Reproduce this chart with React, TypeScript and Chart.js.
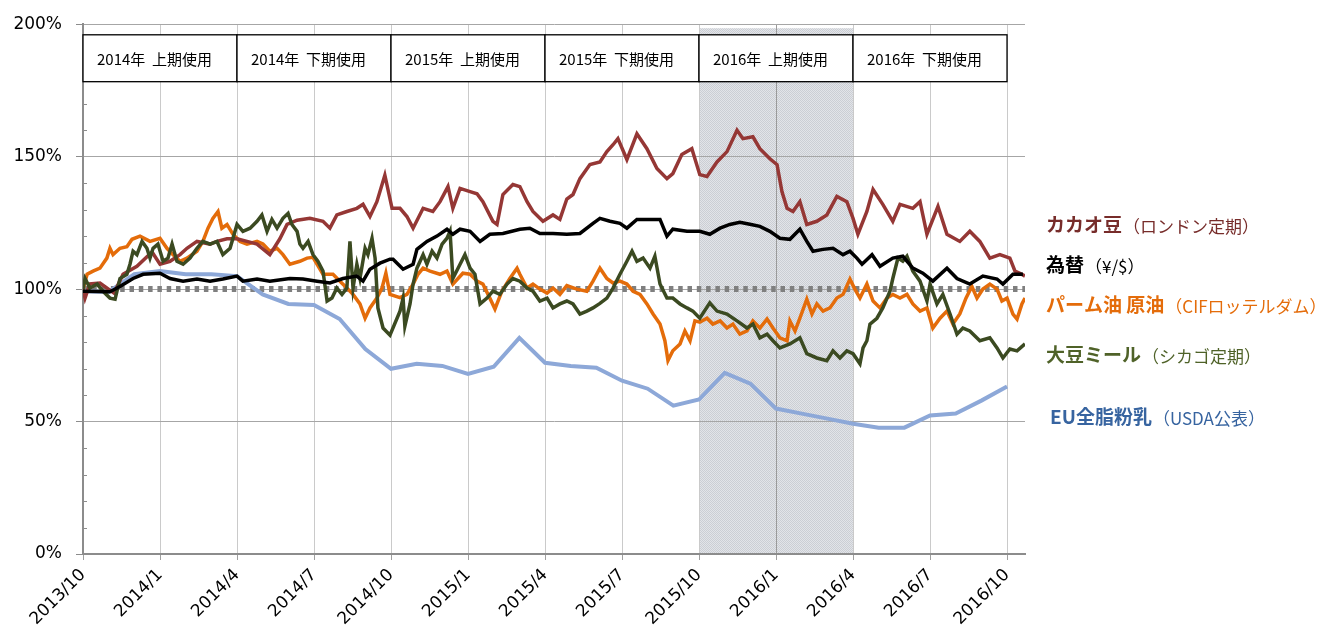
import React, { useEffect, useRef } from "react";
import { Chart, registerables } from "chart.js";

Chart.register(...registerables);

// ---------- data (x = months since 2013/10, y = % of start) ----------
const QUARTER_LABELS = [
  "2013/10", "2014/1", "2014/4", "2014/7", "2014/10", "2015/1", "2015/4",
  "2015/7", "2015/10", "2016/1", "2016/4", "2016/7", "2016/10",
];
const PERIOD_LABELS = [
  "2014年  上期使用", "2014年  下期使用", "2015年  上期使用",
  "2015年  下期使用", "2016年  上期使用", "2016年  下期使用",
];
const SHADE_FROM = 24; // 2015/10
const SHADE_TO = 30; // 2016/4
const BASELINE = 100;
const X_MAX = 36.7;

const cacao: [number, number][] = [
  [0, 100], [0.08, 96.6], [0.27, 102], [0.66, 102.3], [1.21, 98.5], [1.56, 105.6], [2.1, 108.6],
  [2.69, 114], [3.0, 109.4], [3.39, 110.5], [3.78, 113], [4.05, 115.4], [4.44, 118], [4.95, 117],
  [5.22, 118], [5.61, 119], [6.0, 119], [6.39, 118], [6.78, 117], [7.28, 113], [7.67, 119],
  [7.95, 124.4], [8.34, 126], [8.84, 126.7], [9.35, 125.6], [9.62, 123], [9.89, 128], [10.28, 129.3],
  [10.67, 130.5], [10.91, 132], [11.18, 127.4], [11.45, 133], [11.76, 143], [12.04, 130.5],
  [12.35, 130.5], [12.62, 127.4], [12.86, 123], [13.25, 130.5], [13.63, 129.3], [13.91, 133],
  [14.22, 138.7], [14.41, 130.5], [14.69, 138], [15.08, 136.8], [15.35, 136], [15.58, 133],
  [15.97, 125.6], [16.13, 124.4], [16.36, 135.7], [16.75, 139.5], [17.02, 138.7], [17.3, 133],
  [17.53, 129.3], [17.92, 125.6], [18.31, 128], [18.58, 126.3], [18.85, 134], [19.09, 135.7],
  [19.36, 141.7], [19.75, 147], [20.14, 148], [20.41, 151.9], [20.65, 154.5], [20.84, 156.8],
  [21.19, 148.9], [21.58, 158.6], [21.97, 153], [22.36, 145.5], [22.75, 141.7], [22.98, 143.6],
  [23.33, 150.8], [23.72, 153], [24.03, 143.2], [24.31, 142.5], [24.7, 148], [25.09, 151.9],
  [25.48, 160], [25.71, 156.8], [26.1, 157.5], [26.37, 153], [26.76, 149.2], [27.04, 147],
  [27.23, 136.8], [27.43, 130.5], [27.66, 129.3], [27.93, 133], [28.2, 124.4], [28.59, 125.6],
  [28.98, 128], [29.37, 135], [29.76, 133], [30.0, 126.7], [30.19, 120.7], [30.54, 129.3],
  [30.78, 137.6], [31.16, 132], [31.55, 125.6], [31.83, 132], [32.33, 130.5], [32.61, 133],
  [32.88, 120.7], [33.31, 131.2], [33.66, 120.7], [34.16, 118], [34.55, 121.8], [34.94, 118],
  [35.33, 111.7], [35.72, 113], [36.11, 111.7], [36.31, 106.8], [36.5, 106], [36.7, 104.9],
];

const fx: [number, number][] = [
  [0, 99.2], [1.05, 99], [1.44, 101], [1.95, 104], [2.34, 105.6], [3.0, 106], [3.39, 104], [3.9, 103],
  [4.44, 103.8], [4.95, 103], [5.45, 103.8], [6.0, 104.9], [6.23, 103], [6.78, 103.8], [7.28, 103],
  [8.06, 104], [8.57, 103.8], [9.12, 103], [9.62, 102.3], [10.13, 104], [10.67, 104.9], [10.91, 103],
  [11.18, 107.5], [11.57, 109.8], [11.96, 111.3], [12.08, 111.3], [12.47, 107.5], [12.86, 109.4],
  [13.01, 115], [13.4, 118], [13.79, 120], [14.18, 122.6], [14.41, 120.7], [14.69, 122.6],
  [15.08, 121.8], [15.47, 118], [15.85, 120.7], [16.36, 121], [17.02, 122.6], [17.41, 123],
  [17.8, 121], [18.31, 121], [18.85, 120.7], [19.36, 121], [19.87, 124.8], [20.14, 126.7],
  [20.53, 125.6], [20.92, 124.8], [21.19, 123], [21.58, 126.3], [22.09, 126.3], [22.48, 126.3],
  [22.75, 120], [22.98, 122.6], [23.53, 121.8], [24.03, 121.8], [24.42, 120.7], [24.82, 123],
  [25.2, 124.4], [25.59, 125.2], [25.98, 124.5], [26.37, 123.7], [26.76, 121.8], [27.15, 119.2],
  [27.54, 118.8], [27.93, 122.6], [28.2, 118], [28.44, 114.3], [28.83, 115], [29.22, 115.4],
  [29.61, 113], [29.88, 114.3], [30.15, 111.7], [30.35, 109.4], [30.74, 113], [31.05, 108.6],
  [31.55, 111.7], [31.94, 112.4], [32.33, 107.9], [32.72, 106], [33.11, 103], [33.66, 107.9],
  [34.05, 104], [34.55, 101.9], [35.06, 104.9], [35.61, 103.8], [35.84, 101.9], [36.23, 105.6],
  [36.62, 105.6],
];

const palm: [number, number][] = [
  [0, 100], [0.16, 105.6], [0.39, 106.8], [0.66, 107.9], [0.93, 111.7], [1.05, 115.4], [1.17, 113],
  [1.44, 115.4], [1.71, 116], [1.91, 118.8], [2.22, 120], [2.61, 118], [3.0, 119.2], [3.27, 115.4],
  [3.51, 113], [3.78, 110.5], [4.05, 111.7], [4.44, 114.3], [4.67, 118], [4.87, 123], [5.06, 126.7],
  [5.26, 129.3], [5.41, 123], [5.61, 124.4], [5.84, 120.7], [6.12, 118], [6.39, 117], [6.78, 118],
  [7.01, 117], [7.28, 114.3], [7.56, 115.4], [7.79, 113], [8.06, 109.4], [8.45, 110.5], [8.73, 111.7],
  [8.96, 112], [9.35, 105.6], [9.74, 105.6], [10.01, 103], [10.28, 100.4], [10.52, 98], [10.79, 94.4],
  [10.99, 89], [11.18, 92.9], [11.45, 96.6], [11.65, 100.4], [11.8, 106], [11.96, 98], [12.35, 96.8],
  [12.62, 98], [12.86, 101.9], [13.05, 105.6], [13.25, 107.9], [13.52, 106.8], [13.91, 105.6],
  [14.18, 106.8], [14.41, 101.9], [14.8, 106], [15.08, 105.6], [15.35, 103], [15.58, 101.9],
  [15.85, 96.6], [16.05, 92.5], [16.32, 99.2], [16.63, 104], [16.91, 107.9], [17.02, 105.6],
  [17.3, 100.4], [17.53, 101.9], [17.8, 100], [18.08, 98.5], [18.31, 100.4], [18.58, 98],
  [18.85, 101.3], [19.24, 100], [19.63, 99.2], [19.87, 103], [20.14, 107.9], [20.41, 104],
  [20.65, 102.3], [20.92, 103], [21.19, 101.9], [21.43, 99.2], [21.7, 98], [21.97, 94.4],
  [22.21, 90.6], [22.48, 86.8], [22.67, 80.5], [22.79, 73], [22.98, 76.7], [23.26, 79.3],
  [23.45, 84.2], [23.65, 80.5], [23.84, 88], [24.03, 87.5], [24.31, 89], [24.54, 86.8], [24.82, 88],
  [25.09, 85.3], [25.32, 86.8], [25.59, 83], [25.87, 84.2], [26.1, 88], [26.37, 85.3], [26.65, 88.7],
  [26.88, 85.3], [27.15, 81.6], [27.43, 80.5], [27.54, 88], [27.74, 84.2], [27.93, 89], [28.2, 96.2],
  [28.4, 90.6], [28.59, 94.4], [28.83, 91.7], [29.1, 92.9], [29.37, 96.6], [29.61, 98], [29.88, 103.8],
  [30.07, 100], [30.27, 96.6], [30.54, 101.9], [30.78, 95.5], [31.05, 92.9], [31.32, 96.6],
  [31.55, 98], [31.83, 96.6], [32.1, 98], [32.33, 94.4], [32.61, 91.7], [32.88, 92.9], [33.11, 85.3],
  [33.39, 89], [33.66, 91.7], [33.89, 86.8], [34.16, 90.6], [34.4, 96.6], [34.63, 101], [34.83, 96.6],
  [35.06, 100], [35.33, 101.9], [35.61, 100], [35.8, 95.5], [36.0, 96.6], [36.23, 90.6], [36.39, 88.7],
  [36.58, 94.4], [36.7, 96.6],
];

const soy: [number, number][] = [
  [0, 100], [0.08, 104], [0.27, 100.4], [0.55, 101.9], [0.78, 99.2], [1.05, 96.6], [1.25, 96.2],
  [1.44, 104], [1.71, 105.6], [1.83, 109.4], [1.95, 114.3], [2.1, 113], [2.3, 118], [2.49, 115.4],
  [2.61, 111.7], [2.73, 115.4], [2.92, 117], [3.12, 110.5], [3.31, 111.7], [3.47, 117], [3.66, 110.5],
  [3.9, 109.4], [4.17, 111.7], [4.44, 115.4], [4.67, 118], [4.95, 117], [5.22, 118], [5.45, 113],
  [5.73, 115.4], [6.0, 124.4], [6.23, 121.8], [6.51, 123], [6.78, 125.6], [6.97, 128], [7.17, 121.8],
  [7.36, 126.3], [7.56, 123], [7.79, 126.7], [7.99, 128.6], [8.14, 124.4], [8.34, 121.8], [8.45, 117],
  [8.57, 115.4], [8.77, 118], [8.96, 113], [9.15, 110.5], [9.35, 106.8], [9.51, 95.5], [9.7, 96.6],
  [9.89, 100.4], [10.09, 98], [10.28, 100.4], [10.4, 118], [10.52, 100.4], [10.67, 109.4],
  [10.79, 104], [10.99, 115.4], [11.1, 113], [11.26, 119.2], [11.38, 111.7], [11.49, 92.9],
  [11.69, 85.3], [11.96, 82.6], [12.35, 91.7], [12.47, 96.6], [12.54, 86], [12.74, 94.4],
  [12.86, 101.9], [13.01, 107.9], [13.25, 113], [13.4, 109.4], [13.6, 114.3], [13.79, 111.7],
  [13.99, 117], [14.18, 119.2], [14.3, 121.8], [14.41, 104], [14.69, 109.4], [14.88, 113],
  [15.08, 107.9], [15.27, 105.6], [15.47, 94.4], [15.74, 96.6], [15.97, 99.2], [16.24, 98],
  [16.52, 101.9], [16.75, 104], [17.02, 103], [17.3, 100.4], [17.53, 99.2], [17.8, 95.5],
  [18.08, 96.6], [18.31, 92.9], [18.58, 94.4], [18.85, 95.5], [19.09, 94.4], [19.36, 90.6],
  [19.63, 91.7], [19.87, 92.9], [20.14, 94.6], [20.41, 96.6], [20.65, 100.4], [20.92, 105.6],
  [21.19, 110.5], [21.39, 114.3], [21.58, 110.5], [21.82, 111.7], [22.09, 107.9], [22.28, 112.4],
  [22.48, 101.9], [22.75, 96.6], [22.98, 96.6], [23.26, 94.4], [23.53, 92.9], [23.76, 91.7],
  [24.03, 89], [24.42, 94.8], [24.7, 91.7], [25.09, 90.6], [25.48, 88], [25.87, 85.3], [26.1, 86.8],
  [26.37, 81.6], [26.65, 83], [26.88, 80.5], [27.15, 77.8], [27.54, 79.3], [27.93, 81.6],
  [28.2, 75.6], [28.59, 74], [28.98, 73], [29.22, 76.7], [29.49, 74], [29.76, 76.7], [30.0, 75.6],
  [30.27, 71.8], [30.39, 77.8], [30.54, 80.5], [30.66, 86.8], [30.93, 89], [31.16, 92.9],
  [31.44, 99.2], [31.55, 104], [31.75, 111.7], [31.94, 110.5], [32.1, 112.4], [32.33, 106.8],
  [32.61, 103], [32.88, 95.5], [33.0, 101.9], [33.27, 94.4], [33.5, 98], [33.78, 90.6], [34.05, 83],
  [34.28, 85.3], [34.55, 84.2], [34.94, 80.5], [35.33, 81.6], [35.61, 77.8], [35.84, 74],
  [36.11, 77.4], [36.39, 76.7], [36.7, 79.3],
];

// EU whole milk powder, monthly (month 0 = 2013/10)
const milk: number[] = [
  99.2, 98.9, 105.6, 106.8, 105.6, 105.6, 104.9, 98, 94.4, 94, 88.7, 77.4, 69.9, 71.8, 71, 68,
  70.7, 81.6, 72.2, 71, 70.3, 65.4, 62.4, 56, 58.3, 68.4, 64.3, 54.9, 53, 51.1, 49.2, 47.7, 47.7,
  52.3, 53, 57.9, 63.2,
];

const SERIES_LABELS = [
  { bold: "カカオ豆", rest: "（ロンドン定期）", color: "#772C2A" },
  { bold: "為替", rest: "（¥/$）", color: "#000000" },
  { bold: "パーム油 原油", rest: "（CIFロッテルダム）", color: "#E46C0A" },
  { bold: "大豆ミール", rest: "（シカゴ定期）", color: "#4F6228" },
  { bold: "EU全脂粉乳", rest: "（USDA公表）", color: "#3764A0" },
];

// ---------- layout / style ----------
const W = 1331;
const H = 634;
const LEGEND_POS = [
  { dx: 21, dy: 201 },
  { dx: 21, dy: 241 },
  { dx: 21, dy: 281 },
  { dx: 21, dy: 331 },
  { dx: 25, dy: 393 },
];
const CJK = "'Noto Sans CJK JP', 'Noto Sans', sans-serif";
const LATIN = "'DejaVu Sans', 'Noto Sans CJK JP', sans-serif";

const toXY = (arr: [number, number][]) => arr.map(([x, y]) => ({ x, y }));

function makePattern(ctx: CanvasRenderingContext2D) {
  const c = document.createElement("canvas");
  c.width = 2;
  c.height = 2;
  const p = c.getContext("2d")!;
  p.fillStyle = "#E2E4E8";
  p.fillRect(0, 0, 2, 2);
  p.fillStyle = "#CBCED4";
  p.fillRect(0, 0, 1, 1);
  p.fillRect(1, 1, 1, 1);
  return ctx.createPattern(c, "repeat")!;
}

const decorPlugin = {
  id: "decor",
  beforeDraw(chart: any) {
    const { ctx, chartArea, scales } = chart;
    const x = scales.x;
    ctx.save();
    ctx.fillStyle = "#ffffff";
    ctx.fillRect(0, 0, chart.width, chart.height);
    const x0 = x.getPixelForValue(SHADE_FROM);
    const x1 = x.getPixelForValue(SHADE_TO);
    ctx.fillStyle = makePattern(ctx);
    ctx.fillRect(x0, chartArea.top + 4, x1 - x0, chartArea.bottom - chartArea.top - 4);
    ctx.restore();
  },
  beforeDatasetsDraw(chart: any) {
    const { ctx, chartArea, scales } = chart;
    const x = scales.x;
    const y = scales.y;
    ctx.save();
    // minor ticks inside the y axis
    ctx.strokeStyle = "#8C8C8C";
    ctx.lineWidth = 1;
    for (let v = 10; v < 200; v += 10) {
      if (v % 50 === 0) continue;
      const py = Math.round(y.getPixelForValue(v)) + 0.5;
      ctx.beginPath();
      ctx.moveTo(chartArea.left, py);
      ctx.lineTo(chartArea.left + 4, py);
      ctx.stroke();
    }
    // half-year boxes
    const top = y.getPixelForValue(196);
    const bottom = y.getPixelForValue(178.3);
    ctx.font = `15px ${CJK}`;
    ctx.textBaseline = "middle";
    ctx.textAlign = "left";
    PERIOD_LABELS.forEach((label, i) => {
      const l = x.getPixelForValue(i * 6);
      const r = x.getPixelForValue(i * 6 + 6);
      ctx.fillStyle = "#ffffff";
      ctx.fillRect(l, top, r - l, bottom - top);
      ctx.strokeStyle = "#000000";
      ctx.lineWidth = 1.3;
      ctx.strokeRect(l, top, r - l, bottom - top);
      ctx.fillStyle = "#000000";
      ctx.fillText(label, l + 14, (top + bottom) / 2 + 1);
    });
    ctx.restore();
  },
  afterDraw(chart: any) {
    const { ctx, chartArea } = chart;
    ctx.save();
    ctx.textBaseline = "middle";
    ctx.textAlign = "left";
    SERIES_LABELS.forEach((s, i) => {
      const px = chartArea.right + LEGEND_POS[i].dx;
      const py = chartArea.top + LEGEND_POS[i].dy;
      ctx.fillStyle = s.color;
      ctx.font = `bold 19px ${CJK}`;
      ctx.fillText(s.bold, px, py);
      const w = ctx.measureText(s.bold).width;
      ctx.font = `17px ${CJK}`;
      ctx.fillText(s.rest, px + w + 1, py + 1);
    });
    ctx.restore();
  },
};

export default function App() {
  const canvasRef = useRef<HTMLCanvasElement | null>(null);

  useEffect(() => {
    if (!canvasRef.current) return;
    const line = (data: any[], color: string, width = 3.5) => ({
      data,
      borderColor: color,
      backgroundColor: color,
      borderWidth: width,
      pointRadius: 0,
      tension: 0,
      fill: false,
    });
    const chart = new Chart(canvasRef.current, {
      type: "line",
      data: {
        datasets: [
          line(toXY(fx), "#000000"),
          line(toXY(soy), "#3B4A21"),
          line(toXY(cacao), "#953735"),
          line(toXY(palm), "#E46C0A"),
          line(milk.map((v, i) => ({ x: i, y: v })), "#8DA8D8", 4),
          {
            ...line(
              [
                { x: 0, y: BASELINE },
                { x: X_MAX, y: BASELINE },
              ],
              "#7F7F7F",
              6
            ),
            borderDash: [4.5, 4.8],
            borderCapStyle: "butt",
          },
        ] as any,
      },
      options: {
        responsive: false,
        animation: false,
        events: [],
        layout: { padding: { top: 24, right: W - 1025, left: 0, bottom: 0 } },
        plugins: { legend: { display: false }, tooltip: { enabled: false } },
        scales: {
          x: {
            type: "linear",
            min: 0,
            max: X_MAX,
            afterFit: (s: any) => {
              s.height = H - 554;
            },
            border: { color: "#8C8C8C", width: 2 },
            grid: {
              color: (c: any) => (c.tick && c.tick.value === 27 ? "#9A9A9A" : "#CACACA"),
              lineWidth: 1,
              tickLength: 6,
              tickColor: "#A0A0A0",
            },
            ticks: {
              stepSize: 3,
              includeBounds: false,
              autoSkip: false,
              minRotation: 45,
              maxRotation: 45,
              padding: 5,
              color: "#000000",
              font: { size: 17, family: LATIN },
              callback: (v: any) => {
                const i = Math.round(Number(v) / 3);
                return Math.abs(Number(v) - i * 3) < 1e-6 ? QUARTER_LABELS[i] ?? "" : "";
              },
            },
          } as any,
          y: {
            min: 0,
            max: 200,
            afterFit: (s: any) => {
              s.width = 83;
            },
            border: { color: "#8C8C8C", width: 2 },
            grid: {
              color: (c: any) => (c.tick && c.tick.value % 50 === 0 ? "#A6A6A6" : "rgba(0,0,0,0)"),
              tickColor: (c: any) => (c.tick && c.tick.value % 50 === 0 ? "#8C8C8C" : "rgba(0,0,0,0)"),
              lineWidth: 1,
              tickLength: 7,
            },
            ticks: {
              stepSize: 10,
              autoSkip: false,
              padding: 14,
              color: "#000000",
              font: { size: 17, family: LATIN },
              callback: (v: any) => (Number(v) % 50 === 0 ? `${v}%` : ""),
            },
          } as any,
        },
      },
      plugins: [decorPlugin],
    });
    return () => chart.destroy();
  }, []);

  return (
    <div style={{ position: "fixed", left: 0, top: 0, width: W, height: H, background: "#fff" }}>
      <canvas ref={canvasRef} width={W} height={H} style={{ width: W, height: H, display: "block" }} />
    </div>
  );
}
